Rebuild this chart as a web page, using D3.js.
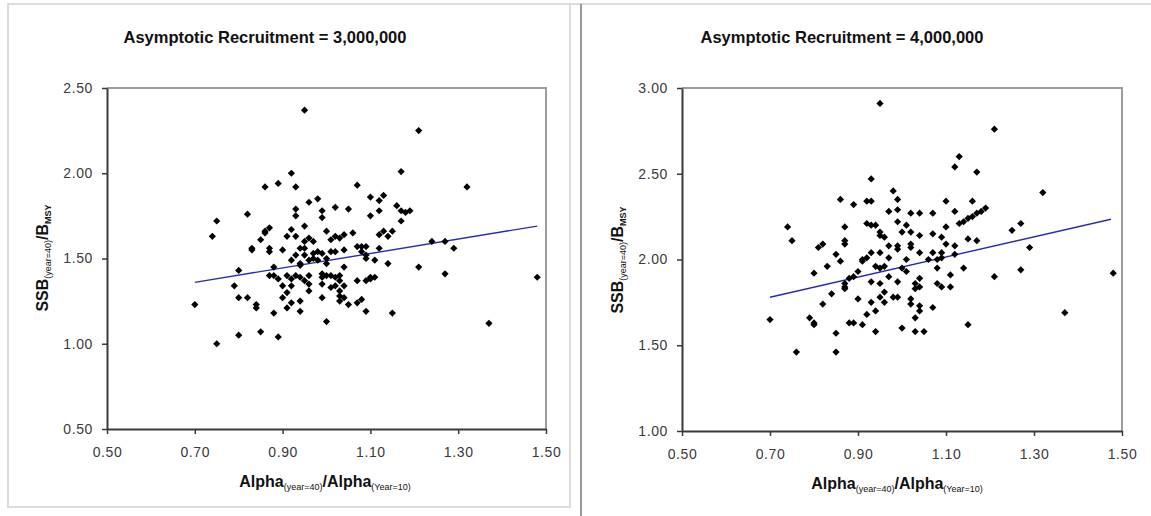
<!DOCTYPE html>
<html>
<head>
<meta charset="utf-8">
<script src="https://cdn.jsdelivr.net/npm/d3@7"></script>
<style>
  html, body { margin: 0; padding: 0; background: #fff; }
  svg { display: block; }
  text { font-family: "Liberation Sans", Arial, sans-serif; }
</style>
</head>
<body>
<svg id="chart" width="1151" height="516"></svg>
<script>
// ---- data ----
const xTicks = [0.50, 0.70, 0.90, 1.10, 1.30, 1.50];
const yTicksA = [0.50, 1.00, 1.50, 2.00, 2.50];
const yTicksB = [1.00, 1.50, 2.00, 2.50, 3.00];

const titleA = "Asymptotic Recruitment = 3,000,000";
const titleB = "Asymptotic Recruitment = 4,000,000";

// alpha ratio (x) and relative SSB (y), asymptotic recruitment 3,000,000
const alphaA = [0.95,1.21,0.92,1.17,0.89,0.86,0.93,1.07,1.32,0.75,0.82,0.74,0.96,0.98,0.93,0.93,0.99,0.99,1.02,1.05,
  1.10,1.13,1.12,1.12,1.10,1.16,1.17,1.18,1.19,1.17,0.87,0.86,0.86,0.85,0.92,0.91,0.93,0.95,0.96,0.95,
  0.97,1.00,1.01,1.02,1.03,1.04,1.06,1.12,1.13,1.14,1.15,0.83,0.83,0.87,0.87,0.90,0.94,0.95,0.93,0.95,
  0.97,0.98,0.99,1.01,1.02,1.04,1.07,1.08,1.09,1.08,1.09,1.09,1.11,1.12,1.14,1.24,1.27,1.29,0.80,0.88,
  0.92,0.94,0.94,0.96,0.97,0.98,1.00,1.00,1.04,1.21,1.27,0.87,0.88,0.89,0.91,0.92,0.93,0.94,0.95,0.96,
  0.99,0.99,1.00,1.01,1.02,1.03,1.03,1.07,1.09,1.10,1.10,1.11,0.79,0.90,0.92,0.96,0.96,0.99,1.01,1.02,
  1.04,1.03,0.80,0.82,0.84,0.84,0.90,0.91,0.92,0.91,0.94,0.94,0.99,1.03,1.03,1.04,1.05,1.07,1.08,1.09,
  1.15,0.88,0.70,1.00,0.85,0.80,0.89,0.75,1.48,1.37];
const ssbA = [2.37,2.25,2.00,2.01,1.94,1.92,1.92,1.93,1.92,1.72,1.76,1.63,1.83,1.85,1.79,1.75,1.78,1.74,1.80,1.79,
  1.86,1.87,1.84,1.78,1.75,1.81,1.78,1.77,1.78,1.72,1.68,1.65,1.66,1.61,1.67,1.63,1.63,1.69,1.62,1.60,
  1.60,1.66,1.61,1.63,1.62,1.64,1.65,1.64,1.66,1.63,1.66,1.56,1.55,1.56,1.54,1.55,1.56,1.56,1.52,1.52,
  1.53,1.54,1.53,1.54,1.54,1.55,1.57,1.57,1.57,1.54,1.52,1.50,1.49,1.56,1.47,1.60,1.60,1.56,1.43,1.45,
  1.49,1.47,1.46,1.49,1.50,1.49,1.50,1.47,1.45,1.45,1.41,1.40,1.40,1.38,1.40,1.38,1.40,1.39,1.37,1.40,
  1.41,1.39,1.40,1.40,1.39,1.40,1.37,1.37,1.37,1.38,1.39,1.39,1.34,1.34,1.34,1.35,1.31,1.35,1.33,1.34,
  1.34,1.31,1.27,1.27,1.23,1.21,1.27,1.30,1.24,1.21,1.25,1.19,1.27,1.28,1.25,1.27,1.23,1.24,1.26,1.19,
  1.18,1.18,1.23,1.13,1.07,1.05,1.04,1.00,1.39,1.12];

// alpha ratio (x) and relative SSB (y), asymptotic recruitment 4,000,000
const alphaB = [0.95,1.21,1.13,1.12,1.17,0.93,1.32,0.98,0.86,0.89,0.92,0.93,0.99,1.10,1.16,0.97,0.99,1.02,1.04,1.07,
  1.12,0.74,0.87,0.92,0.93,0.94,0.99,1.01,1.13,1.14,1.15,1.16,1.17,1.18,1.19,1.27,1.25,0.75,0.81,0.82,
  0.87,0.87,0.95,0.95,0.96,1.00,1.02,1.04,1.07,1.09,1.10,1.10,1.12,1.15,1.17,0.97,0.99,0.99,1.02,1.02,
  0.85,0.86,0.91,0.91,0.92,0.93,0.95,0.97,1.01,1.04,1.06,1.07,1.08,1.09,1.09,1.12,1.29,0.80,0.83,0.89,
  0.90,0.94,0.95,0.96,1.00,1.01,1.08,1.11,1.14,1.27,1.21,0.87,0.87,0.88,0.93,0.95,0.97,0.99,1.03,1.04,
  1.08,1.09,1.11,0.84,0.87,0.90,0.95,0.96,0.96,0.98,0.99,1.03,1.04,1.02,1.02,1.04,1.04,0.82,0.93,0.94,
  0.92,1.03,1.07,0.70,0.79,0.80,0.80,0.88,0.89,0.91,0.85,0.94,1.00,1.03,1.05,1.15,0.76,0.85,1.48,1.37];
const ssbB = [2.91,2.76,2.60,2.54,2.51,2.47,2.39,2.40,2.35,2.32,2.34,2.34,2.35,2.34,2.34,2.28,2.29,2.27,2.27,2.27,
  2.28,2.19,2.19,2.21,2.20,2.20,2.22,2.20,2.21,2.22,2.24,2.25,2.27,2.28,2.30,2.21,2.17,2.11,2.07,2.09,
  2.11,2.09,2.16,2.14,2.13,2.16,2.16,2.14,2.15,2.13,2.19,2.09,2.08,2.12,2.11,2.08,2.08,2.06,2.09,2.07,
  2.03,1.99,1.99,2.00,2.01,2.04,2.04,2.01,2.00,2.04,2.00,2.04,2.00,2.04,2.01,2.03,2.07,1.92,1.96,1.90,
  1.93,1.96,1.95,1.96,1.95,1.93,1.95,1.91,1.95,1.94,1.90,1.84,1.86,1.89,1.87,1.86,1.90,1.87,1.86,1.89,
  1.86,1.84,1.84,1.80,1.83,1.77,1.78,1.75,1.81,1.78,1.78,1.83,1.84,1.77,1.74,1.73,1.70,1.74,1.75,1.70,
  1.68,1.66,1.72,1.65,1.66,1.63,1.62,1.63,1.63,1.62,1.57,1.58,1.60,1.58,1.58,1.62,1.46,1.46,1.92,1.69];

// linear trend lines: [alpha at start, alpha at end] and fitted SSB at each end
const trendAlphaA = [0.70, 1.48];
const trendSsbA = [1.36, 1.69];
const trendAlphaB = [0.70, 1.475];
const trendSsbB = [1.78, 2.235];

// ---- drawing ----
const svg = d3.select("#chart");

// chart frames
svg.append("rect").attr("x", 8).attr("y", 4).attr("width", 562).attr("height", 503)
  .attr("fill", "none").attr("stroke", "#dcdcdc").attr("stroke-width", 2);
svg.append("line").attr("x1", 570).attr("x2", 1151).attr("y1", 4).attr("y2", 4)
  .attr("stroke", "#dcdcdc").attr("stroke-width", 2);
svg.append("line").attr("x1", 581).attr("x2", 581).attr("y1", 4).attr("y2", 516)
  .attr("stroke", "#9a9a9a").attr("stroke-width", 2);

function drawPanel(cfg) {
  const g = svg.append("g");
  const x = d3.scaleLinear().domain([xTicks[0], xTicks[xTicks.length - 1]]).range([cfg.left, cfg.right]);
  const y = d3.scaleLinear().domain([cfg.yTicks[0], cfg.yTicks[cfg.yTicks.length - 1]]).range([cfg.bottom, cfg.top]);

  // plot area frame (top and right)
  g.append("path")
    .attr("d", `M${cfg.left},${cfg.top}H${cfg.right}V${cfg.bottom}`)
    .attr("fill", "none").attr("stroke", "#9c9c9c").attr("stroke-width", 2);

  // axes
  const xAxis = d3.axisBottom(x).tickValues(xTicks).tickSize(5).tickSizeOuter(0)
    .tickFormat(d3.format(".2f")).tickPadding(13);
  const yAxis = d3.axisLeft(y).tickValues(cfg.yTicks).tickSize(5).tickSizeOuter(0)
    .tickFormat(d3.format(".2f")).tickPadding(9);

  const gx = g.append("g").attr("transform", `translate(0,${cfg.bottom})`).call(xAxis);
  const gy = g.append("g").attr("transform", `translate(${cfg.left},0)`).call(yAxis);
  [gx, gy].forEach(a => {
    a.select(".domain").attr("stroke", "#3a3a3a").attr("stroke-width", 2);
    a.selectAll(".tick line").attr("stroke", "#3a3a3a").attr("stroke-width", 1.5);
    a.selectAll(".tick text").attr("fill", "#3a3a3a")
      .style("font-size", "14px").style("letter-spacing", "0.6px")
      .style("font-family", "'Liberation Sans', Arial, sans-serif");
  });

  // trend line
  const line = d3.line().x(d => x(d[0])).y(d => y(d[1]));
  g.append("path")
    .datum(cfg.trendX.map((v, i) => [v, cfg.trendY[i]]))
    .attr("d", line).attr("fill", "none")
    .attr("stroke", "#2b2bb0").attr("stroke-width", 1.4);

  // points (diamonds)
  const sym = d3.symbol().type(d3.symbolSquare).size(26);
  g.append("g").selectAll("path")
    .data(cfg.xs.map((v, i) => [v, cfg.ys[i]]))
    .join("path")
    .attr("d", sym)
    .attr("transform", d => `translate(${x(d[0])},${y(d[1])}) rotate(45)`)
    .attr("fill", "#000");

  // title
  g.append("text").attr("x", cfg.titleX).attr("y", 43)
    .attr("text-anchor", "middle")
    .style("font-size", "16.5px").style("font-weight", "bold").attr("fill", "#111")
    .text(cfg.title);

  // x label
  const xl = g.append("text").attr("x", cfg.xLabelX).attr("y", cfg.xLabelY)
    .attr("text-anchor", "middle").attr("fill", "#111");
  xl.append("tspan").style("font-size", "16px").style("font-weight", "bold").text("Alpha");
  xl.append("tspan").style("font-size", "9px").attr("dy", 3).text("(year=40)");
  xl.append("tspan").style("font-size", "16px").style("font-weight", "bold").attr("dy", -3).text("/Alpha");
  xl.append("tspan").style("font-size", "9px").attr("dy", 3).text("(Year=10)");

  // y label
  const yl = g.append("text")
    .attr("transform", `translate(${cfg.yLabelX},${cfg.yLabelY}) rotate(-90)`)
    .attr("text-anchor", "middle").attr("fill", "#111");
  yl.append("tspan").style("font-size", "16px").style("font-weight", "bold").text("SSB");
  yl.append("tspan").style("font-size", "9px").attr("dy", 3).text("(year=40)");
  yl.append("tspan").style("font-size", "16px").style("font-weight", "bold").attr("dy", -3).text("/B");
  yl.append("tspan").style("font-size", "9px").style("font-weight", "bold").attr("dy", 3).text("MSY");
}

drawPanel({
  left: 107, right: 546, top: 88, bottom: 429,
  yTicks: yTicksA, xs: alphaA, ys: ssbA,
  trendX: trendAlphaA, trendY: trendSsbA,
  title: titleA, titleX: 265,
  xLabelX: 325, xLabelY: 487, yLabelX: 48, yLabelY: 258
});
drawPanel({
  left: 682, right: 1122, top: 88, bottom: 431,
  yTicks: yTicksB, xs: alphaB, ys: ssbB,
  trendX: trendAlphaB, trendY: trendSsbB,
  title: titleB, titleX: 842,
  xLabelX: 897, xLabelY: 489, yLabelX: 623, yLabelY: 260
});
</script>
</body>
</html>
